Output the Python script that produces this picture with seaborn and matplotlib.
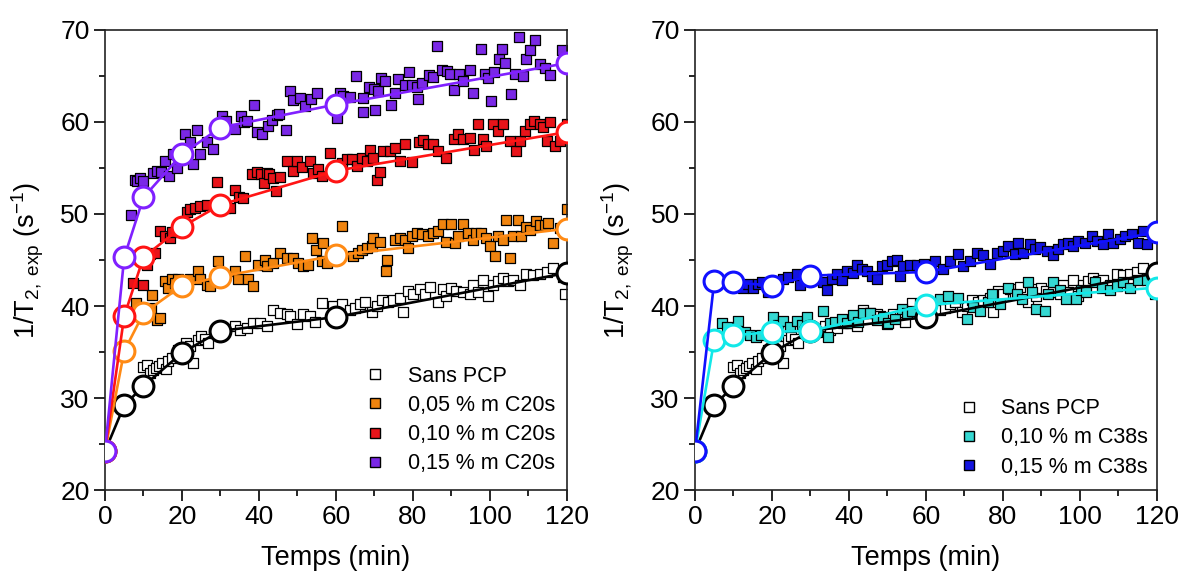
import matplotlib
matplotlib.use("Agg")
import matplotlib.pyplot as plt
from matplotlib.lines import Line2D
from matplotlib.ticker import MultipleLocator
import seaborn as sns

# temps des mesures "ponctuelles" (grands cercles)
t_fit = [0, 5, 10, 20, 30, 60, 120]
fit_sans = [24.2, 29.2, 31.3, 34.9, 37.3, 38.8, 43.6]
fit_c20_05 = [24.2, 35.1, 39.2, 42.2, 43.2, 45.5, 48.4]
fit_c20_10 = [24.2, 38.9, 45.3, 48.6, 51.0, 54.7, 58.9]
fit_c20_15 = [24.2, 45.3, 51.8, 56.5, 59.4, 61.9, 66.4]
fit_c38_10 = [24.2, 36.3, 36.8, 37.2, 37.3, 40.1, 42.0]
fit_c38_15 = [24.2, 42.7, 42.6, 42.2, 43.3, 43.7, 48.0]

# suivi continu (petits carres)
t_sans = [10.0, 10.8, 11.7, 12.5, 13.3, 14.0, 14.8, 15.8, 16.4, 17.3, 19.0, 21.0, 22.1, 22.9,
          24.2, 25.0, 25.9, 26.8, 33.8, 35.1, 36.8, 38.5, 40.3, 42.0, 43.7, 45.5, 47.2, 48.0,
          49.8, 51.5, 53.2, 54.5, 56.3, 59.3, 61.5, 63.6, 64.9, 66.2, 67.5, 69.3, 70.6, 71.9,
          73.6, 74.9, 76.6, 77.5, 78.8, 80.1, 81.8, 83.1, 84.4, 86.6, 87.9, 88.7, 90.0, 91.3,
          93.1, 94.8, 95.7, 97.0, 98.3, 99.6, 100.9, 102.2, 103.5, 104.8, 106.1, 107.8, 109.5,
          111.2, 113.0, 114.7, 116.4, 119.0, 119.5]
v_sans = [33.4, 33.6, 32.7, 33.0, 33.3, 33.5, 33.8, 33.1, 34.0, 34.3, 35.2, 36.0, 35.6, 33.8,
          36.3, 36.7, 36.4, 36.0, 37.8, 37.4, 37.6, 38.2, 38.2, 37.8, 39.6, 39.2, 39.1, 38.9,
          38.0, 39.1, 38.9, 38.3, 40.3, 40.0, 40.2, 39.6, 39.8, 40.2, 40.4, 39.4, 40.0, 40.7,
          40.4, 40.7, 40.9, 39.4, 41.6, 41.3, 41.8, 41.3, 42.1, 40.4, 41.8, 41.1, 42.0, 41.6,
          41.5, 41.3, 42.3, 41.5, 42.8, 41.1, 42.3, 42.7, 43.0, 42.7, 42.8, 42.3, 43.5,
          43.4, 43.5, 43.7, 44.1, 43.2, 41.3]

t_c20_05 = [8.1, 11.9, 12.1, 13.4, 14.3, 15.6, 16.4, 17.3, 18.2, 19.0, 22.1, 24.2, 24.7, 26.4,
            27.3, 29.4, 33.8, 34.6, 36.4, 37.2, 38.5, 39.8, 41.6, 42.0, 43.7, 45.5, 47.2, 48.9,
            50.2, 51.5, 52.8, 53.7, 54.8, 56.3, 56.7, 57.6, 61.7, 64.5, 65.8, 66.7, 68.0, 69.3,
            69.7, 71.4, 73.0, 73.2, 75.3, 76.6, 77.9, 78.8, 79.7, 81.0, 82.3, 84.0, 85.3, 86.6,
            87.9, 88.7, 90.0, 90.9, 91.8, 93.1, 94.4, 95.7, 96.5, 97.8, 99.1, 100.0, 101.3,
            102.2, 103.5, 104.3, 105.2, 106.1, 107.4, 108.2, 109.5, 110.4, 112.1, 113.0, 114.3,
            115.1, 116.4, 118.2, 120.0]
v_c20_05 = [40.3, 39.8, 41.2, 38.5, 38.7, 42.7, 42.0, 42.9, 42.5, 42.9, 42.9, 43.8, 42.9, 42.3,
            42.2, 44.9, 43.8, 42.9, 45.4, 42.9, 42.2, 44.5, 45.0, 44.3, 44.7, 45.8, 45.2, 45.2,
            44.7, 44.3, 44.5, 47.4, 46.1, 44.9, 46.9, 44.7, 48.7, 45.4, 45.8, 46.1, 46.3, 46.5,
            47.4, 47.0, 43.8, 45.0, 47.2, 47.4, 47.2, 46.3, 47.6, 47.9, 47.8, 47.6, 47.9, 48.1,
            48.9, 47.0, 48.9, 46.9, 47.6, 48.9, 47.9, 47.2, 47.9, 47.9, 47.4, 46.5, 45.4,
            47.6, 47.2, 49.4, 45.2, 47.6, 49.4, 47.6, 48.6, 48.3, 49.2, 48.8, 48.8,
            49.0, 46.9, 48.5, 50.5]

t_c20_10 = [7.4, 10.0, 10.8, 11.7, 13.0, 14.3, 15.6, 16.9, 17.3, 21.3, 22.1, 23.4, 24.7, 26.4,
            29.2, 31.3, 32.5, 33.8, 34.9, 35.9, 38.3, 39.6, 40.5, 41.3, 42.2, 42.7, 43.6, 44.5,
            45.4, 47.4, 48.9, 49.8, 51.3, 53.2, 54.1, 55.4, 56.3, 58.4, 61.5, 62.8, 64.3, 65.4,
            66.7, 68.0, 68.8, 69.7, 70.6, 71.4, 72.3, 74.0, 75.3, 76.6, 77.9, 79.7, 81.7, 82.7,
            84.0, 85.3, 86.6, 88.7, 90.6, 91.8, 93.1, 94.8, 95.8, 97.0, 98.3, 99.1, 100.9, 102.2,
            103.5, 105.2, 106.8, 107.8, 109.1, 110.4, 111.4, 113.0, 113.8, 114.7, 115.6, 116.9,
            118.2, 120.0]
v_c20_10 = [42.5, 42.3, 44.5, 45.6, 45.8, 48.1, 47.6, 47.4, 48.0, 50.2, 50.5, 50.7, 50.9, 51.0,
            53.5, 50.6, 50.7, 52.6, 51.9, 51.7, 54.3, 54.6, 54.3, 53.4, 54.5, 54.3, 53.9, 52.5,
            54.0, 55.8, 54.7, 55.8, 55.1, 55.8, 54.5, 54.9, 54.1, 56.6, 55.5, 56.0, 56.0, 55.2,
            56.1, 55.8, 57.0, 56.1, 53.7, 54.6, 56.9, 56.9, 57.2, 55.8, 57.6, 55.6, 57.8, 58.0,
            57.6, 57.6, 56.9, 56.1, 58.1, 58.7, 58.1, 58.3, 57.0, 59.8, 58.1, 57.4, 59.8, 59.0,
            59.8, 57.9, 56.9, 57.9, 59.0, 59.8, 60.1, 59.8, 59.5, 57.9, 60.0, 57.4,
            57.9, 59.8]

t_c20_15 = [6.7, 7.8, 8.2, 9.0, 9.8, 12.5, 13.4, 14.5, 15.6, 16.7, 17.6, 18.8, 20.8, 22.1, 22.8,
            23.8, 24.7, 26.4, 28.0, 30.5, 31.5, 33.8, 35.3, 36.0, 36.8, 38.7, 39.4, 40.7, 42.4,
            43.3, 44.6, 45.3, 47.0, 48.1, 48.9, 50.6, 51.9, 53.5, 55.2, 60.2, 61.0, 61.9, 63.6,
            65.2, 67.0, 67.1, 68.7, 69.8, 70.1, 71.0, 71.7, 72.7, 74.2, 75.4, 76.2, 77.9, 79.0,
            79.8, 81.0, 81.4, 82.4, 84.3, 85.3, 86.3, 87.6, 88.9, 89.7, 90.6, 92.0, 93.0, 94.7,
            95.6, 97.6, 98.7, 99.6, 100.4, 101.0, 102.3, 103.2, 104.0, 105.6, 106.5, 107.6, 108.7,
            109.4, 110.4, 111.6, 113.0, 114.3, 115.6, 118.7]
v_c20_15 = [49.9, 53.7, 53.6, 53.9, 53.6, 54.5, 54.7, 54.6, 55.8, 54.1, 56.5, 55.0, 58.7, 57.8, 55.4,
            59.1, 56.5, 57.8, 57.1, 60.6, 60.1, 59.2, 60.6, 60.0, 60.1, 61.8, 58.9, 58.7, 59.6,
            60.2, 60.8, 60.9, 59.1, 63.4, 62.4, 62.6, 61.7, 62.5, 63.2, 60.4, 63.2, 62.8, 62.7,
            65.0, 62.6, 61.1, 63.8, 63.6, 61.3, 63.4, 64.8, 64.5, 61.9, 63.1, 64.7, 64.0, 65.4,
            64.0, 63.8, 62.5, 64.2, 65.1, 64.9, 68.3, 65.7, 65.5, 65.2, 63.5, 65.2, 64.5, 65.7,
            63.1, 67.9, 65.2, 64.8, 62.3, 65.4, 66.8, 67.9, 66.4, 63.0, 65.2, 69.2, 65.0,
            66.8, 67.8, 68.9, 66.3, 65.9, 65.1, 67.8]

t_c38_10 = [6.9, 8.2, 11.3, 12.9, 14.2, 15.9, 17.2, 20.3, 21.6, 22.9, 24.7, 26.4, 27.7, 29.0, 31.6,
            33.3, 34.6, 35.1, 36.4, 38.1, 39.4, 41.1, 42.4, 43.7, 45.5, 47.2, 48.9, 50.2, 51.9,
            53.7, 55.0, 56.3, 58.4, 60.6, 63.6, 65.8, 68.4, 70.6, 72.3, 74.0, 76.2, 77.1, 79.2,
            81.4, 83.6, 84.9, 86.6, 87.5, 88.7, 90.9, 91.8, 93.1, 94.8, 96.5, 99.1, 100.4, 101.7,
            103.9, 105.6, 107.8, 109.5, 111.2, 113.0, 115.1, 117.3]
v_c38_10 = [38.1, 37.7, 38.4, 37.2, 36.8, 36.6, 36.8, 38.8, 37.9, 38.4, 37.7, 38.4, 37.9, 38.8, 37.2,
            39.5, 36.6, 38.1, 38.3, 38.6, 38.1, 39.0, 38.3, 39.2, 39.2, 38.5, 38.8, 38.1, 38.6,
            39.7, 39.2, 39.5, 40.2, 39.9, 40.8, 41.1, 40.9, 38.6, 39.9, 39.5, 40.4, 41.3, 40.2,
            42.0, 41.3, 40.8, 42.6, 41.5, 39.7, 39.5, 41.3, 42.6, 41.7, 40.8, 40.8, 41.7, 41.5,
            42.6, 42.0, 41.7, 42.2, 42.6, 42.0, 42.8, 42.8]

t_c38_15 = [11.5, 12.5, 13.8, 15.1, 16.4, 17.3, 19.0, 21.2, 22.9, 24.2, 26.4, 27.3, 30.5, 33.3, 34.2,
            35.5, 36.8, 38.1, 39.4, 41.1, 42.0, 43.3, 44.6, 45.9, 47.2, 48.5, 49.8, 51.1, 52.4,
            53.2, 54.1, 55.8, 57.6, 59.5, 60.8, 62.3, 64.5, 66.2, 68.4, 69.7, 71.4, 73.2, 74.9,
            76.6, 78.4, 80.1, 81.4, 83.1, 84.0, 85.3, 87.0, 88.3, 89.6, 91.4, 93.1, 94.4, 95.7,
            97.0, 98.3, 99.6, 101.3, 103.0, 104.3, 106.1, 107.4, 108.7, 110.4, 111.7, 113.4,
            115.1, 116.4, 117.3]
v_c38_15 = [42.3, 42.0, 42.4, 42.0, 42.4, 42.6, 41.5, 42.6, 42.9, 43.1, 43.5, 42.3, 43.0, 42.6, 41.7,
            42.9, 43.5, 42.8, 43.8, 43.6, 44.5, 44.0, 43.8, 43.3, 42.9, 44.3, 44.5, 44.9, 45.0,
            43.3, 44.3, 44.5, 44.5, 44.6, 44.0, 44.9, 44.0, 44.9, 45.6, 44.4, 44.9, 45.8, 45.5,
            44.6, 45.8, 46.0, 46.5, 45.6, 46.9, 45.8, 46.7, 46.2, 46.4, 46.0, 45.5, 46.2, 46.7,
            46.9, 46.5, 47.1, 46.9, 47.6, 47.1, 46.7, 47.8, 46.9, 47.3, 47.6, 47.8,
            46.9, 48.2, 46.7]

labels_left = ["Sans PCP", "0,05 % m C20s", "0,10 % m C20s", "0,15 % m C20s"]
labels_right = ["Sans PCP", "0,10 % m C38s", "0,15 % m C38s"]

sns.set_style("ticks")
plt.rcParams["font.family"] = ["Liberation Sans", "DejaVu Sans"]
plt.rcParams["mathtext.fontset"] = "custom"
plt.rcParams["mathtext.rm"] = "Liberation Sans"
plt.rcParams["mathtext.it"] = "Liberation Sans:italic"
for k in ["text.color", "axes.labelcolor", "xtick.color", "ytick.color", "axes.edgecolor"]:
    plt.rcParams[k] = "black"

fig = plt.figure(figsize=(11.86, 5.79), dpi=100)
ax1 = fig.add_axes([0.0885, 0.1537, 0.3895, 0.7945])
ax2 = fig.add_axes([0.586, 0.1537, 0.3895, 0.7945])

# (t carres, v carres, v cercles, couleur remplissage, couleur ligne, label)
left = [
    (t_sans, v_sans, fit_sans, "white", "black", labels_left[0]),
    (t_c20_05, v_c20_05, fit_c20_05, "#F0840F", "#FF8A14", labels_left[1]),
    (t_c20_10, v_c20_10, fit_c20_10, "#E8141A", "#FF1414", labels_left[2]),
    (t_c20_15, v_c20_15, fit_c20_15, "#7A28E6", "#8020FF", labels_left[3]),
]
right = [
    (t_sans, v_sans, fit_sans, "white", "black", labels_right[0]),
    (t_c38_10, v_c38_10, fit_c38_10, "#35D8D2", "#12E8E8", labels_right[1]),
    (t_c38_15, v_c38_15, fit_c38_15, "#1414E0", "#1010FF", labels_right[2]),
]


def draw(ax, series, leg_anchor):
    for t, v, fit, face, col, lab in series:
        sns.scatterplot(x=t, y=v, ax=ax, marker="s", s=44, color=face,
                        edgecolor="black", linewidth=0.9, zorder=2, legend=False)
    for t, v, fit, face, col, lab in series:
        sns.lineplot(x=t_fit, y=fit, ax=ax, color=col, lw=1.9, marker="o",
                     markersize=15, markerfacecolor="white", markeredgecolor=col,
                     markeredgewidth=2.2, estimator=None, sort=False, zorder=3, legend=False)
    ax.set_xlim(0, 120)
    ax.set_ylim(20, 70)
    ax.xaxis.set_major_locator(MultipleLocator(20))
    ax.xaxis.set_minor_locator(MultipleLocator(10))
    ax.yaxis.set_major_locator(MultipleLocator(10))
    ax.yaxis.set_minor_locator(MultipleLocator(5))
    ax.tick_params(which="major", direction="out", length=8, width=1.2, labelsize=19, pad=3)
    ax.tick_params(which="minor", direction="out", length=4.5, width=1.2)
    for sp in ax.spines.values():
        sp.set_visible(True)
        sp.set_linewidth(1.2)
        sp.set_color("#222222")
    ax.set_xlabel("Temps (min)", fontsize=19.5, labelpad=11)
    ax.set_ylabel(r"1/T$_{2,\ \mathrm{exp}}$ (s$^{-1}$)", fontsize=19.5, labelpad=10)
    handles = [Line2D([], [], marker="s", ls="none", mfc=face, mec="black", mew=1, ms=7)
               for t, v, fit, face, col, lab in series]
    ax.legend(handles, [s[5] for s in series], loc="lower left", bbox_to_anchor=leg_anchor,
              frameon=False, fontsize=15.5, handlelength=1.0, handletextpad=1.0,
              labelspacing=0.38)


draw(ax1, left, (0.52, -0.008))
draw(ax2, right, (0.527, -0.015))

fig.savefig("out.png", dpi=100)
